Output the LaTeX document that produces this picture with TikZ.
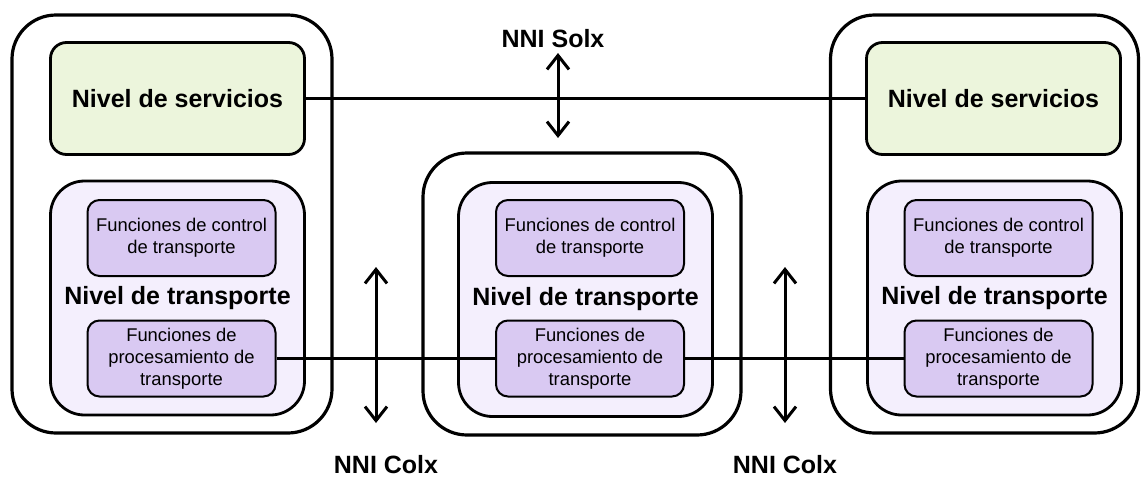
\documentclass[tikz,border=0pt]{standalone}
\usepackage{fontspec}
\setmainfont{Liberation Sans}
\usetikzlibrary{arrows.meta}

\definecolor{verdeserv}{RGB}{236,245,220}
\definecolor{lilatrans}{RGB}{244,239,253}
\definecolor{lilafunc}{RGB}{217,201,242}

\tikzset{nodo/.style = {draw, line width=1.6pt, rounded corners=22pt, inner sep=0pt,
                        minimum width=#1},
         nodo/.default=160pt,
         servicio/.style = {draw, line width=1.4pt, rounded corners=8pt, fill=verdeserv,
                            minimum width=127pt, minimum height=56pt, inner sep=0pt,
                            font=\bfseries\fontsize{12.5}{15}\selectfont},
         transporte/.style = {draw, line width=1.4pt, rounded corners=17pt, fill=lilatrans,
                              minimum width=127pt, minimum height=117pt, inner sep=0pt,
                              font=\bfseries\fontsize{12.5}{15}\selectfont},
         funcion/.style = {draw, line width=1pt, rounded corners=6pt, fill=lilafunc,
                           minimum width=94pt, minimum height=38pt, inner sep=0pt,
                           align=center, font=\fontsize{9.2}{11}\selectfont},
         enlace/.style = {line width=1.5pt},
         nni/.style = {line width=1.5pt, {Straight Barb[length=7pt,width=11pt]}-{Straight Barb[length=7pt,width=11pt]}},
         etiqueta/.style = {font=\bfseries\fontsize{12.5}{15}\selectfont, inner sep=0pt}
        }

\begin{document}
\begin{tikzpicture}[x=0.5pt, y=-0.5pt]
  \useasboundingbox (0,0) rectangle (1141,477);

  % nodo izquierdo
  \node[nodo, minimum height=209pt] (extI) at (172,224) {};
  \node[servicio] (servI) at (177.5,98.5) {Nivel de servicios};
  \node[transporte] (transI) at (177.5,298) {Nivel de transporte};
  \node[funcion] (ctrlI) at (181.5,238) {Funciones de control\\ de transporte};
  \node[funcion] (procI) at (181.5,358.5) {Funciones de\\ procesamiento de\\ transporte};

  % nodo central
  \node[nodo=159pt, minimum height=141pt] (extC) at (582,294) {};
  \node[transporte] (transC) at (585.5,299.5) {Nivel de transporte};
  \node[funcion] (ctrlC) at (590,238) {Funciones de control\\ de transporte};
  \node[funcion] (procC) at (590,358.5) {Funciones de\\ procesamiento de\\ transporte};

  % nodo derecho
  \node[nodo=154pt, minimum height=209pt] (extD) at (984.5,224) {};
  \node[servicio] (servD) at (993.5,98.5) {Nivel de servicios};
  \node[transporte] (transD) at (994.5,298) {Nivel de transporte};
  \node[funcion] (ctrlD) at (998.5,238) {Funciones de control\\ de transporte};
  \node[funcion] (procD) at (998.5,358.5) {Funciones de\\ procesamiento de\\ transporte};

  % enlaces
  \draw[enlace] (servI.east) -- (servD.west);
  \draw[enlace] (procI.east) -- (procC.west);
  \draw[enlace] (procC.east) -- (procD.west);

  % interfaces
  \coordinate (solxA) at (558,53);
  \coordinate (solxB) at (558,138);
  \coordinate (colxIA) at (376,267);
  \coordinate (colxIB) at (376,423);
  \coordinate (colxDA) at (785,267);
  \coordinate (colxDB) at (785,423);
  \draw[nni] (solxA) -- (solxB);
  \draw[nni] (colxIA) -- (colxIB);
  \draw[nni] (colxDA) -- (colxDB);

  \node[etiqueta] (solx) at (553,39) {NNI Solx};
  \node[etiqueta] (colxI) at (386,465) {NNI Colx};
  \node[etiqueta] (colxD) at (785,465) {NNI Colx};
\end{tikzpicture}
\end{document}
